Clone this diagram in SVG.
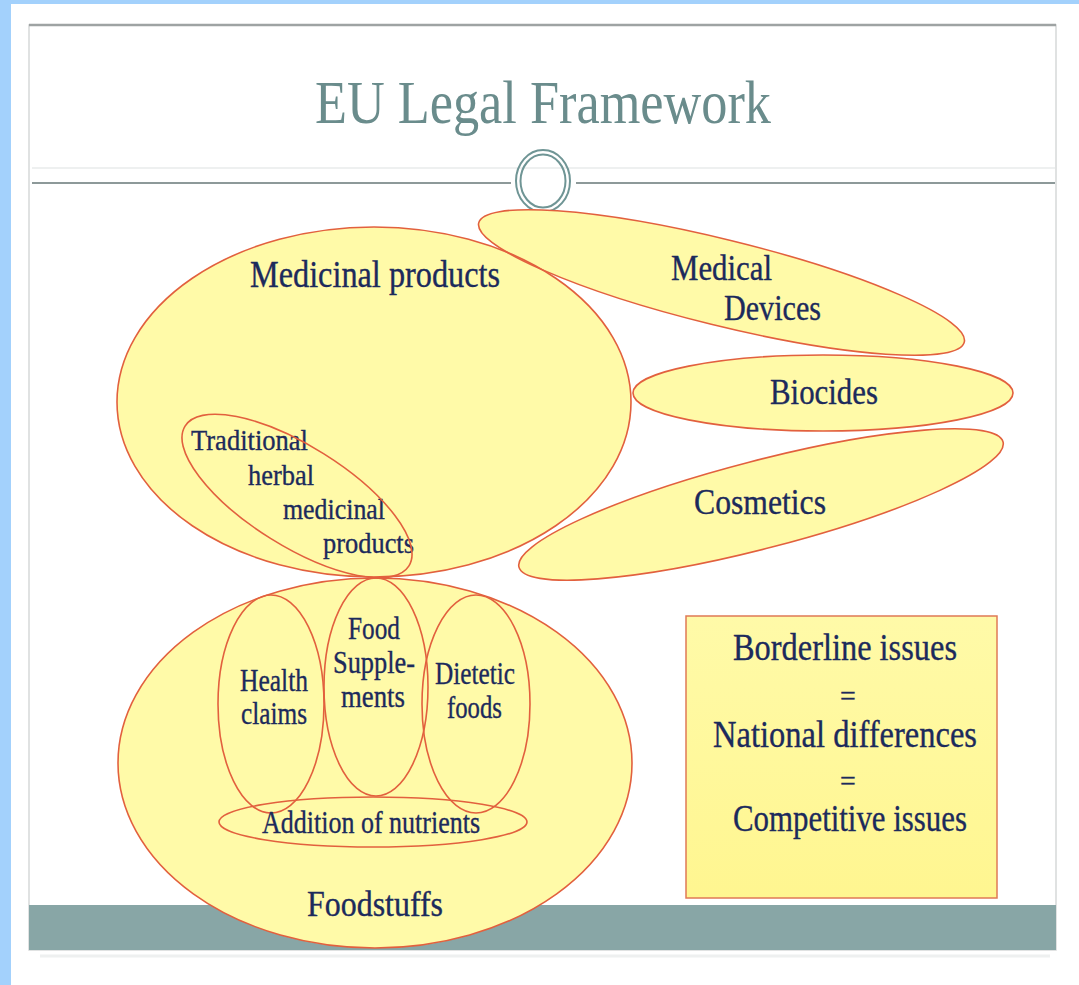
<svg xmlns="http://www.w3.org/2000/svg" xmlns:xlink="http://www.w3.org/1999/xlink" width="1079" height="985" viewBox="0 0 1079 985">
<defs>
<style>
.fill{fill:#fffaa8;stroke:none}
.edge{fill:none;stroke:#e2603e;stroke-width:1.6}
.t{font-family:"Liberation Serif","DejaVu Serif",serif;fill:#1c2a5c;stroke:#1c2a5c;stroke-width:0.35}
.s34{font-size:37px}.s33{font-size:35px}.s28{font-size:30px}.s29{font-size:31px}.s30{font-size:32px}.s36{font-size:38px}.eq{font-size:28px}
.ring{fill:none;stroke:#6f9595;stroke-width:2}
</style>
<linearGradient id="boxg" x1="0" y1="0" x2="0" y2="1">
<stop offset="0" stop-color="#fffaa8"/>
<stop offset="1" stop-color="#fff690"/>
</linearGradient>
<ellipse id="s-med" cx="374" cy="402" rx="257" ry="175"/>
<ellipse id="s-dev" cx="0" cy="0" rx="250" ry="43" transform="translate(721.5 282.5) rotate(13.8)"/>
<ellipse id="s-bio" cx="823" cy="393" rx="190" ry="38"/>
<ellipse id="s-cos" cx="0" cy="0" rx="250" ry="44" transform="translate(761 504.5) rotate(-14.5)"/>
<ellipse id="s-thm" cx="0" cy="0" rx="132" ry="50" transform="translate(297 496) rotate(32)"/>
<ellipse id="s-food" cx="375" cy="763" rx="257" ry="185"/>
<ellipse id="s-hc" cx="271" cy="704" rx="53" ry="109"/>
<ellipse id="s-fs" cx="376" cy="687" rx="52" ry="109"/>
<ellipse id="s-df" cx="476" cy="704" rx="54" ry="109"/>
<ellipse id="s-an" cx="373" cy="822" rx="154" ry="25"/>
</defs>

<g id="background">
<rect x="0" y="0" width="1079" height="985" fill="#a3d1fc"/>
<rect x="11" y="4" width="1068" height="981" fill="#ffffff"/>
<rect x="29" y="25" width="1027" height="925" fill="#ffffff" stroke="#d6d9d9" stroke-width="1.5"/>
<line x1="29" y1="25" x2="1056" y2="25" stroke="#9ea3a3" stroke-width="2.5"/>
<line x1="40" y1="956" x2="1050" y2="956" stroke="#eef0f0" stroke-width="3"/>
<rect x="29" y="905" width="1027" height="45" fill="#88a6a6"/>
<line x1="32" y1="183" x2="511" y2="183" stroke="#8d9999" stroke-width="2"/>
<line x1="576" y1="183" x2="1055" y2="183" stroke="#8d9999" stroke-width="2"/>
<line x1="32" y1="168" x2="1055" y2="168" stroke="#eef0f0" stroke-width="2"/>
<ellipse class="ring" cx="543" cy="181" rx="27" ry="31"/>
<ellipse class="ring" cx="543" cy="181" rx="22.5" ry="26.5"/>
<text x="315" y="123" font-family="Liberation Serif, DejaVu Serif, serif" font-size="62" fill="#6a8c8c" textLength="456" lengthAdjust="spacingAndGlyphs">EU Legal Framework</text>
</g>

<g id="node-medicinal">
<use href="#s-med" class="fill"/>
<text class="t s34" x="250" y="287" textLength="250" lengthAdjust="spacingAndGlyphs">Medicinal products</text>
</g>
<g id="node-devices">
<use href="#s-dev" class="fill"/>
<text class="t s33" x="671" y="280" textLength="101" lengthAdjust="spacingAndGlyphs">Medical</text>
<text class="t s33" x="724" y="320" textLength="97" lengthAdjust="spacingAndGlyphs">Devices</text>
</g>
<g id="node-biocides">
<use href="#s-bio" class="fill"/>
<text class="t s33" x="770" y="404" textLength="108" lengthAdjust="spacingAndGlyphs">Biocides</text>
</g>
<g id="node-cosmetics">
<use href="#s-cos" class="fill"/>
<text class="t s33" x="694" y="514" textLength="132" lengthAdjust="spacingAndGlyphs">Cosmetics</text>
</g>
<g id="node-traditional">
<use href="#s-thm" class="fill"/>
<text class="t s28" x="191" y="450" textLength="117" lengthAdjust="spacingAndGlyphs">Traditional</text>
<text class="t s28" x="248" y="485" textLength="66" lengthAdjust="spacingAndGlyphs">herbal</text>
<text class="t s28" x="283" y="519" textLength="102" lengthAdjust="spacingAndGlyphs">medicinal</text>
<text class="t s28" x="323" y="553" textLength="91" lengthAdjust="spacingAndGlyphs">products</text>
</g>
<g id="node-foodstuffs">
<use href="#s-food" class="fill"/>
<text class="t s33" x="307" y="916" textLength="136" lengthAdjust="spacingAndGlyphs">Foodstuffs</text>
</g>
<g id="node-health">
<use href="#s-hc" class="fill"/>
<text class="t s29" x="240" y="691" textLength="68" lengthAdjust="spacingAndGlyphs">Health</text>
<text class="t s29" x="241" y="724" textLength="66" lengthAdjust="spacingAndGlyphs">claims</text>
</g>
<g id="node-supplements">
<use href="#s-fs" class="fill"/>
<text class="t s29" x="348" y="639" textLength="52" lengthAdjust="spacingAndGlyphs">Food</text>
<text class="t s29" x="333" y="673" textLength="82" lengthAdjust="spacingAndGlyphs">Supple-</text>
<text class="t s29" x="341" y="707" textLength="64" lengthAdjust="spacingAndGlyphs">ments</text>
</g>
<g id="node-dietetic">
<use href="#s-df" class="fill"/>
<text class="t s29" x="435" y="684" textLength="80" lengthAdjust="spacingAndGlyphs">Dietetic</text>
<text class="t s29" x="447" y="718" textLength="55" lengthAdjust="spacingAndGlyphs">foods</text>
</g>
<g id="node-nutrients">
<use href="#s-an" class="fill"/>
</g>
<g id="node-borderline">
<rect x="686" y="616" width="311" height="282" fill="url(#boxg)" stroke="#e07a55" stroke-width="1.5"/>
<text class="t s36" x="733" y="660" textLength="224" lengthAdjust="spacingAndGlyphs">Borderline issues</text>
<text class="t eq" x="848" y="705" text-anchor="middle">=</text>
<text class="t s36" x="713" y="747" textLength="264" lengthAdjust="spacingAndGlyphs">National differences</text>
<text class="t eq" x="848" y="790" text-anchor="middle">=</text>
<text class="t s36" x="733" y="831" textLength="234" lengthAdjust="spacingAndGlyphs">Competitive issues</text>
</g>

<g id="outlines">
<use href="#s-med" class="edge"/>
<use href="#s-dev" class="edge"/>
<use href="#s-bio" class="edge"/>
<use href="#s-cos" class="edge"/>
<use href="#s-thm" class="edge"/>
<use href="#s-food" class="edge"/>
<use href="#s-hc" class="edge"/>
<use href="#s-fs" class="edge"/>
<use href="#s-df" class="edge"/>
<use href="#s-an" class="edge"/>
</g>
<text class="t s30" x="262" y="833" textLength="218" lengthAdjust="spacingAndGlyphs">Addition of nutrients</text>
</svg>
